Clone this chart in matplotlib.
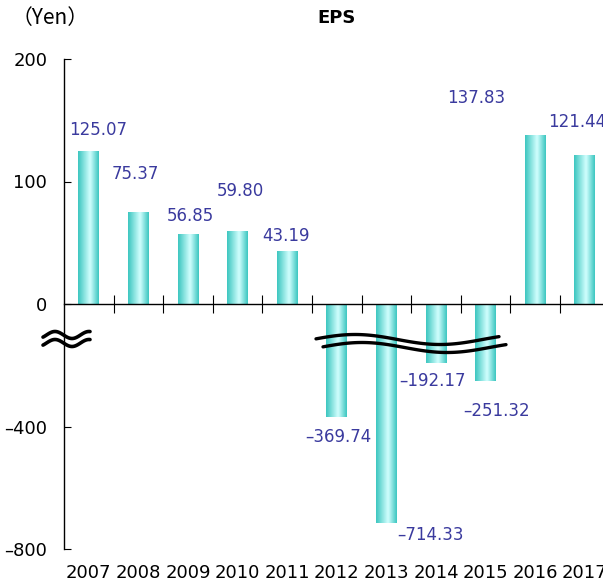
import numpy as np
import matplotlib
matplotlib.use("Agg")
import matplotlib.pyplot as plt
from matplotlib.colors import LinearSegmentedColormap
from matplotlib.patches import Rectangle
from matplotlib.transforms import ScaledTranslation

plt.rcParams['font.family'] = ['DejaVu Sans', 'Noto Sans CJK JP']

years = ["2007", "2008", "2009", "2010", "2011", "2012",
         "2013", "2014", "2015", "2016", "2017"]
eps = [125.07, 75.37, 56.85, 59.80, 43.19, -369.74,
       -714.33, -192.17, -251.32, 137.83, 121.44]
ytick_values = [200, 100, 0, -400, -800]

# label offsets in pixels (dx, dy) relative to bar end
label_offsets = [(9, 21), (-3, 38), (2, 18), (3, 40), (-1, 15), (2, -20),
                 (44, -12), (-4, -18), (11, -30), (-59, 37), (-8, 33)]

NEG_SCALE = 0.25  # the lower part of the axis is compressed 4:1
DASH = "\u2013"   # narrower than the DejaVu minus sign


def squash(v):
    return v if v >= 0 else v * NEG_SCALE


W, H = 603, 586
fig = plt.figure(figsize=(W / 100, H / 100), dpi=100)
ax = fig.add_axes([64 / W, 37 / H, 545.6 / W, 490 / H])

cmap = LinearSegmentedColormap.from_list(
    "teal", [(0, "#3cc6c0"), (0.58, "#d2fffe"), (1, "#3cc6c0")])
grad = np.linspace(0, 1, 64).reshape(1, -1)

x = np.arange(len(years))
bw = 0.42
for xi, v in zip(x, eps):
    h = squash(v)
    rect = Rectangle((xi - bw / 2, min(0, h)), bw, abs(h),
                     facecolor="none", edgecolor="none")
    ax.add_patch(rect)
    im = ax.imshow(grad, cmap=cmap, aspect="auto",
                   extent=(xi - bw / 2, xi + bw / 2, min(0, h), max(0, h)),
                   interpolation="bicubic", zorder=2)
    im.set_clip_path(rect)

for xi, v, (dx, dy) in zip(x, eps, label_offsets):
    txt = f"{v:.2f}".replace("-", DASH)
    ax.annotate(txt, (xi, squash(v)), xytext=(dx, dy),
                textcoords="offset pixels", ha="center", va="center",
                fontsize=12, color="#3a3a9e", zorder=5, annotation_clip=False)

ax.set_xlim(-0.5, len(years) - 0.5)
ax.set_ylim(-200, 200)

ax.set_yticks([squash(v) for v in ytick_values])
ax.set_yticklabels([str(v).replace("-", DASH) for v in ytick_values],
                   fontsize=13)
ax.tick_params(axis="y", direction="in", length=5, pad=12, width=0.8)

ax.spines["top"].set_visible(False)
ax.spines["right"].set_visible(False)
ax.spines["bottom"].set_position(("data", 0))
ax.spines["left"].set_linewidth(1.0)
ax.spines["bottom"].set_linewidth(1.0)
ax.set_xticks(np.arange(len(years) - 1) + 0.5)
ax.set_xticklabels([])
ax.tick_params(axis="x", direction="inout", length=13, width=0.8)

# year labels sit below the plot, not under the zero line
year_shift = ax.transData + ScaledTranslation(0, -24 / 100, fig.dpi_scale_trans)
for xi, yr in zip(x, years):
    ax.text(xi, -200, yr, transform=year_shift, ha="center", va="center",
            fontsize=13, color="black", clip_on=False)

fig.text(337 / W, 1 - 18 / H, "EPS", ha="center", va="center",
         fontsize=13, fontweight="bold")
fig.text(12 / W, 1 - 18 / H, "（Yen）", ha="left", va="center", fontsize=15,
         family=["Noto Sans CJK JP", "DejaVu Sans"])


# axis break marks, drawn in pixel space
def wave(x0, x1, ymid, amp, period, phase_x):
    xs = np.linspace(x0, x1, 80)
    ys = ymid - amp * np.cos(2 * np.pi * (xs - phase_x) / period)
    return xs / W, 1 - ys / H


for dx, dy in [(0, 0), (7, 8)]:
    xs, ys = wave(316 + dx, 499 + dx, 339.5 + dy, 5, 170, 355 + dx)
    fig.add_artist(plt.Line2D(xs, ys, color="black", lw=2.4,
                              solid_capstyle="round", zorder=10))
for dy in [0, 8]:
    xs, ys = wave(43, 90, 335 + dy, 3.5, 34, 55)
    fig.add_artist(plt.Line2D(xs, ys, color="black", lw=2.6,
                              solid_capstyle="round", zorder=10))

fig.savefig("out.png", dpi=100)
